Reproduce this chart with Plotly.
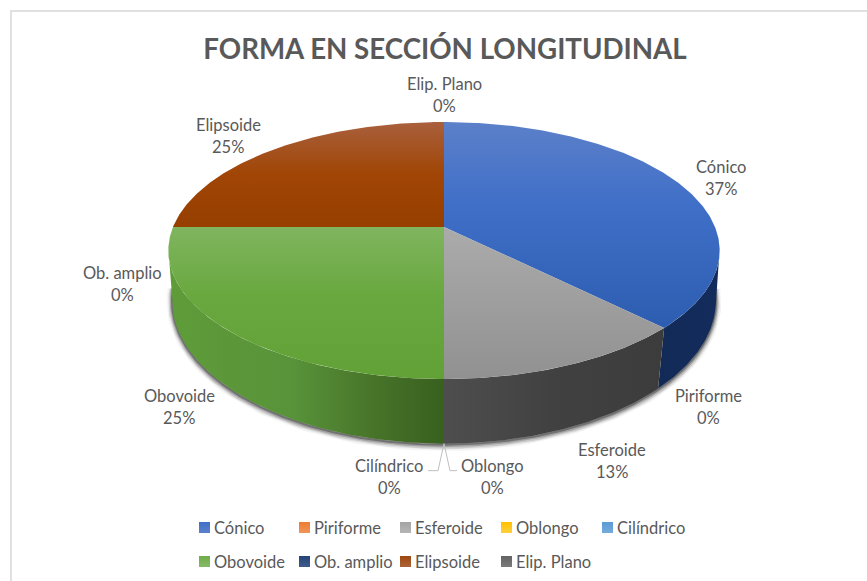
import math
import plotly.graph_objects as go

# ---- data ----
categories = ["Cónico", "Piriforme", "Esferoide", "Oblongo", "Cilíndrico",
              "Obovoide", "Ob. amplio", "Elipsoide", "Elip. Plano"]
values = [3, 0, 1, 0, 0, 2, 0, 2, 0]
percent_labels = ["37%", "0%", "13%", "0%", "0%", "25%", "0%", "25%", "0%"]
chart_title = "FORMA EN SECCIÓN LONGITUDINAL"

# ---- styles ----
INK = "#595959"
FONT = "Lato"
LABEL_SIZE = 16.5
swatch_colors = ["#3f6fc6", "#ed7d31", "#a5a5a5", "#ffc000", "#5b9bd5",
                 "#70ad47", "#264478", "#9e480e", "#636363"]
swatch_light = ["#5b82cc", "#f0955a", "#b5b5b5", "#ffd040", "#74abdc",
                "#85b968", "#3f5b8c", "#ab623a", "#7a7a7a"]
# vertical fills run from the numerically low y (stop 0) to high y; the y axis
# is reversed, so stop 1 is the top edge on screen
top_scale = {
    "Cónico": [[0, "#2d5db0"], [0.6, "#406fc8"], [1, "#5c80c9"]],
    "Esferoide": [[0, "#919191"], [1, "#ababab"]],
    "Obovoide": [[0, "#62a136"], [0.55, "#69a83f"], [1, "#80b55f"]],
    "Elipsoide": [[0, "#963f00"], [0.5, "#a04505"], [1, "#a9603c"]],
}
wall_scale = {
    "Cónico": [[0, "#122a56"], [1, "#142c5c"]],
    "Esferoide": [[0, "#4e4e4e"], [0.5, "#414141"], [1, "#3c3c3c"]],
    "Obovoide": [[0, "#5f9c39"], [0.45, "#58933a"], [0.75, "#477329"], [1, "#38601f"]],
}

# ---- layout geometry (perspective of the two discs, in axis units = pixels) ----
CX = 444
TOP = dict(b=271.0, a=124.2, k=0.183, y0=227.0)
BOT = dict(b=268.5, a=140.0, k=0.160, y0=277.0)
FRONT = (100.0, 260.0)
W, H = 867, 581


def project(theta_deg, plane):
    t = math.radians(theta_deg)
    u, v = math.sin(t), math.cos(t)
    d = 1 + plane["k"] * v
    return CX + plane["b"] * u / d, plane["y0"] - plane["a"] * v / d


def arc(a0, a1, plane):
    n = max(2, int(abs(a1 - a0) * 1.5) + 1)
    pts = [project(a0 + (a1 - a0) * i / (n - 1), plane) for i in range(n)]
    return [p[0] for p in pts], [p[1] for p in pts]


total = sum(values)
slices = []
acc = 0.0
for name, val in zip(categories, values):
    start = acc / total * 360
    acc += val
    slices.append((name, start, acc / total * 360, val))

fig = go.Figure()

# soft shadow under the wall
sx, sy = arc(FRONT[0] - 6, FRONT[1] + 6, BOT)
for width, alpha, dy in [(11, 0.05, 2), (8, 0.09, 2), (6, 0.14, 2), (4, 0.24, 1.5), (2, 0.4, 1)]:
    fig.add_trace(go.Scatter(x=sx, y=[y + dy for y in sy], mode="lines",
                             line=dict(color=f"rgba(40,40,40,{alpha})", width=width),
                             hoverinfo="skip", showlegend=False))

# walls
for name, a0, a1, val in slices:
    lo, hi = max(a0, FRONT[0]), min(a1, FRONT[1])
    if val == 0 or lo >= hi:
        continue
    tx, ty = arc(lo, hi, TOP)
    bx, by = arc(hi, lo, BOT)
    fig.add_trace(go.Scatter(
        x=tx + bx, y=ty + by, mode="lines", line=dict(width=0), fill="toself",
        fillgradient=dict(type="horizontal", colorscale=wall_scale[name]),
        hoverinfo="skip", showlegend=False))

# top surface
cy = TOP["y0"]
for name, a0, a1, val in slices:
    if val == 0:
        continue
    x, y = arc(a0, a1, TOP)
    fig.add_trace(go.Scatter(
        x=[CX] + x + [CX], y=[cy] + y + [cy], mode="lines", line=dict(width=0),
        fill="toself", name=name,
        fillgradient=dict(type="vertical", colorscale=top_scale[name]),
        hoverinfo="name", showlegend=False))

# leader lines for the two zero slices at the front
bx0, by0 = project(180, BOT)
fig.add_trace(go.Scatter(x=[bx0 - 16, bx0 - 6, bx0, bx0 + 6, bx0 + 13],
                         y=[by0 + 27, by0 + 27, by0, by0 + 27, by0 + 27],
                         mode="lines", line=dict(color="#bfbfbf", width=1),
                         hoverinfo="skip", showlegend=False))

# data labels
label_pos = {
    "Cónico": (721, 178), "Piriforme": (708, 407), "Esferoide": (612, 461),
    "Oblongo": (492, 477), "Cilíndrico": (389, 477), "Obovoide": (179, 407),
    "Ob. amplio": (122, 284), "Elipsoide": (228, 136), "Elip. Plano": (444, 95),
}
LINE_GAP = 11
ann = []
for name, pct in zip(categories, percent_labels):
    lx, ly = label_pos[name]
    for txt, dy in ((name, -LINE_GAP), (pct, LINE_GAP)):
        ann.append(dict(x=lx, y=ly + dy, xref="x", yref="y", text=txt, showarrow=False,
                        xanchor="center", yanchor="middle",
                        font=dict(family=FONT, size=LABEL_SIZE, color=INK)))

# legend: two rows of swatch + text
legend_cols = [199, 299, 400, 501, 602]
legend_rows = [527.5, 561.5]
for i, (name, c, cl) in enumerate(zip(categories, swatch_colors, swatch_light)):
    col, row = i % 5, i // 5
    lx, ly = legend_cols[col], legend_rows[row]
    fig.add_trace(go.Scatter(
        x=[lx + 5.5], y=[ly], mode="markers", name=name, showlegend=False,
        marker=dict(symbol="square", size=11, color=c, line=dict(width=0),
                    gradient=dict(type="vertical", color=cl)),
        hoverinfo="name"))
    ann.append(dict(x=lx + 12.5, y=ly, xref="x", yref="y", text=name, showarrow=False,
                    xanchor="left", yanchor="middle",
                    font=dict(family=FONT, size=LABEL_SIZE, color=INK)))

fig.update_layout(
    width=W, height=H, margin=dict(l=0, r=0, t=0, b=0),
    paper_bgcolor="white", plot_bgcolor="white", showlegend=False,
    title=dict(text=f"<b>{chart_title}</b>", x=445 / W, y=1 - 49 / H,
               xanchor="center", yanchor="middle",
               font=dict(family=FONT, size=27.7, color=INK)),
    xaxis=dict(range=[0, W], visible=False, fixedrange=True),
    yaxis=dict(range=[H, 0], visible=False, fixedrange=True),
    annotations=ann,
    shapes=[
        dict(type="line", xref="x", yref="y", x0=10, x1=W, y0=11, y1=11,
             line=dict(color="#e0e0e0", width=2)),
        dict(type="line", xref="x", yref="y", x0=11, x1=11, y0=10, y1=H,
             line=dict(color="#e0e0e0", width=2)),
    ],
)
fig.write_html("out.html", config={"displayModeBar": False},
               post_script="document.body.style.margin='0';document.documentElement.style.overflow='hidden';")
